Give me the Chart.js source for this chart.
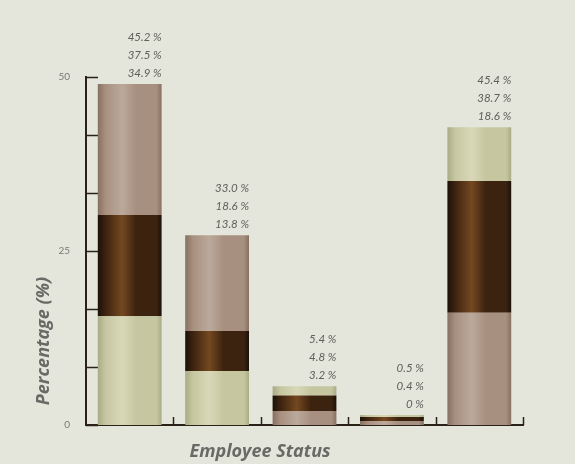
<!DOCTYPE html>
<html>
<head>
<meta charset="utf-8">
<script src="https://cdn.jsdelivr.net/npm/chart.js@4/dist/chart.umd.min.js"></script>
<style>
	html, body { margin: 0; padding: 0; background: #e4e5db; }
	#wrap { width: 575px; height: 464px; }
</style>
</head>
<body>
<div id="wrap"><canvas id="statusChart" width="575" height="464"></canvas></div>
<script>
// employee status groups (not labelled on the axis)
var categories = ['Status 1', 'Status 2', 'Status 3', 'Status 4', 'Status 5'];

// three percentage series, each one sums to 100 over the five groups
var seriesTop = [45.2, 33.0, 3.2, 0, 18.6];
var seriesBottom = [37.5, 18.6, 4.8, 0.4, 38.7];
var seriesMiddle = [34.9, 13.8, 5.4, 0.5, 45.4];

// stacks are plotted at the summed percentage divided by this
var stackDivisor = 2.4;

// labelled values on the y axis
var yLabelled = [0, 25, 50];

var TAUPE = ['#86705f', '#a89080', '#bba99b'];
var GREEN = ['#a9ab86', '#c6c7a0', '#d8d8b8'];
var DARK = ['#1b1109', '#3c230f', '#744820'];

var bottomColors = [GREEN, GREEN, TAUPE, TAUPE, TAUPE];
var middleColors = [DARK, DARK, DARK, DARK, DARK];
var topColors = [TAUPE, TAUPE, GREEN, GREEN, GREEN];

function scaled(arr) {
	return arr.map(function(v) { return v / stackDivisor; });
}

// horizontal shading so every bar looks rounded
function shade(colors) {
	return function(ctx) {
		var c = colors[ctx.dataIndex || 0];
		if (ctx.type !== 'data') return c[1];
		var chart = ctx.chart;
		var xs = chart.scales.x;
		if (!xs || !chart.chartArea) return c[1];
		var cx = xs.getPixelForValue(ctx.dataIndex);
		var half = (xs.right - xs.left) / categories.length * 0.73 / 2;
		var g = chart.ctx.createLinearGradient(cx - half, 0, cx + half, 0);
		g.addColorStop(0, c[0]);
		g.addColorStop(0.12, c[1]);
		g.addColorStop(0.38, c[2]);
		g.addColorStop(0.6, c[1]);
		g.addColorStop(0.92, c[1]);
		g.addColorStop(1, c[0]);
		return g;
	};
}

function fmt(v) {
	return v === 0 ? '0 %' : v.toFixed(1) + ' %';
}

var AXIS = '#2a2218';

var extras = {
	id: 'extras',
	beforeDatasetsDraw: function(chart) {
		var ctx = chart.ctx;
		var ys = chart.scales.y, xs = chart.scales.x;
		var area = chart.chartArea;
		ctx.save();
		ctx.strokeStyle = AXIS;
		ctx.lineWidth = 1.5;
		// inward ticks on the y axis
		ys.ticks.forEach(function(t) {
			var y = Math.round(ys.getPixelForValue(t.value)) + 0.5;
			ctx.beginPath();
			ctx.moveTo(area.left, y);
			ctx.lineTo(area.left + 12, y);
			ctx.stroke();
		});
		// upward ticks between the groups
		var step = (xs.right - xs.left) / categories.length;
		for (var i = 0; i < categories.length; i++) {
			var x = Math.round(xs.getPixelForValue(i) + step / 2) + 0.5;
			ctx.beginPath();
			ctx.moveTo(x, area.bottom);
			ctx.lineTo(x, area.bottom - 8);
			ctx.stroke();
		}
		ctx.restore();
	},
	afterDraw: function(chart) {
		var ctx = chart.ctx;
		var area = chart.chartArea;
		ctx.save();

		// values above each stack, largest first
		ctx.fillStyle = '#5f5f5b';
		ctx.font = 'italic 11.5px Lato';
		ctx.textAlign = 'right';
		ctx.textBaseline = 'middle';
		for (var i = 0; i < categories.length; i++) {
			var top = Infinity, right = 0;
			for (var d = 0; d < 3; d++) {
				var el = chart.getDatasetMeta(d).data[i];
				top = Math.min(top, el.y);
				right = el.x + el.width / 2;
			}
			var vals = [seriesTop[i], seriesBottom[i], seriesMiddle[i]].sort(function(a, b) { return b - a; });
			for (var k = 0; k < 3; k++) {
				ctx.fillText(fmt(vals[k]), right, top - 47 + k * 18);
			}
		}

		// axis titles
		ctx.fillStyle = '#696966';
		ctx.font = 'italic bold 18px "Open Sans"';
		ctx.textAlign = 'center';
		ctx.textBaseline = 'middle';
		ctx.fillText('Employee Status', 260, area.bottom + 27);
		ctx.translate(44, 341);
		ctx.rotate(-Math.PI / 2);
		ctx.fillText('Percentage (%)', 0, 0);
		ctx.restore();
	}
};

var chartdata = {
	labels: categories,
	datasets: [ {
		data: scaled(seriesBottom),
		backgroundColor: shade(bottomColors)
	}, {
		data: scaled(seriesMiddle),
		backgroundColor: shade(middleColors)
	}, {
		data: scaled(seriesTop),
		backgroundColor: shade(topColors)
	} ]
};

new Chart(document.getElementById('statusChart'), {
	type: 'bar',
	data: chartdata,
	plugins: [extras],
	options: {
		responsive: false,
		animation: false,
		layout: {
			padding: { top: 77, right: 52, left: 0, bottom: 0 }
		},
		datasets: {
			bar: {
				categoryPercentage: 1,
				barPercentage: 0.73,
				minBarLength: 4,
				borderWidth: 0
			}
		},
		plugins: {
			legend: { display: false },
			tooltip: { enabled: false }
		},
		scales: {
			x: {
				stacked: true,
				grid: { display: false },
				border: { display: true, color: AXIS, width: 2 },
				ticks: { display: false },
				afterFit: function(scale) { scale.height = 39; }
			},
			y: {
				stacked: true,
				min: 0,
				max: 50,
				grid: { display: false },
				border: { display: true, color: AXIS, width: 2 },
				ticks: {
					stepSize: 25 / 3,
					padding: 8,
					color: '#7a7a76',
					font: { family: 'Lato', size: 10 },
					callback: function(v) {
						var r = Math.round(v);
						return (Math.abs(v - r) < 0.01 && yLabelled.indexOf(r) >= 0) ? String(r) : '';
					}
				},
				afterFit: function(scale) { scale.width = 86; }
			}
		}
	}
});
</script>
</body>
</html>
